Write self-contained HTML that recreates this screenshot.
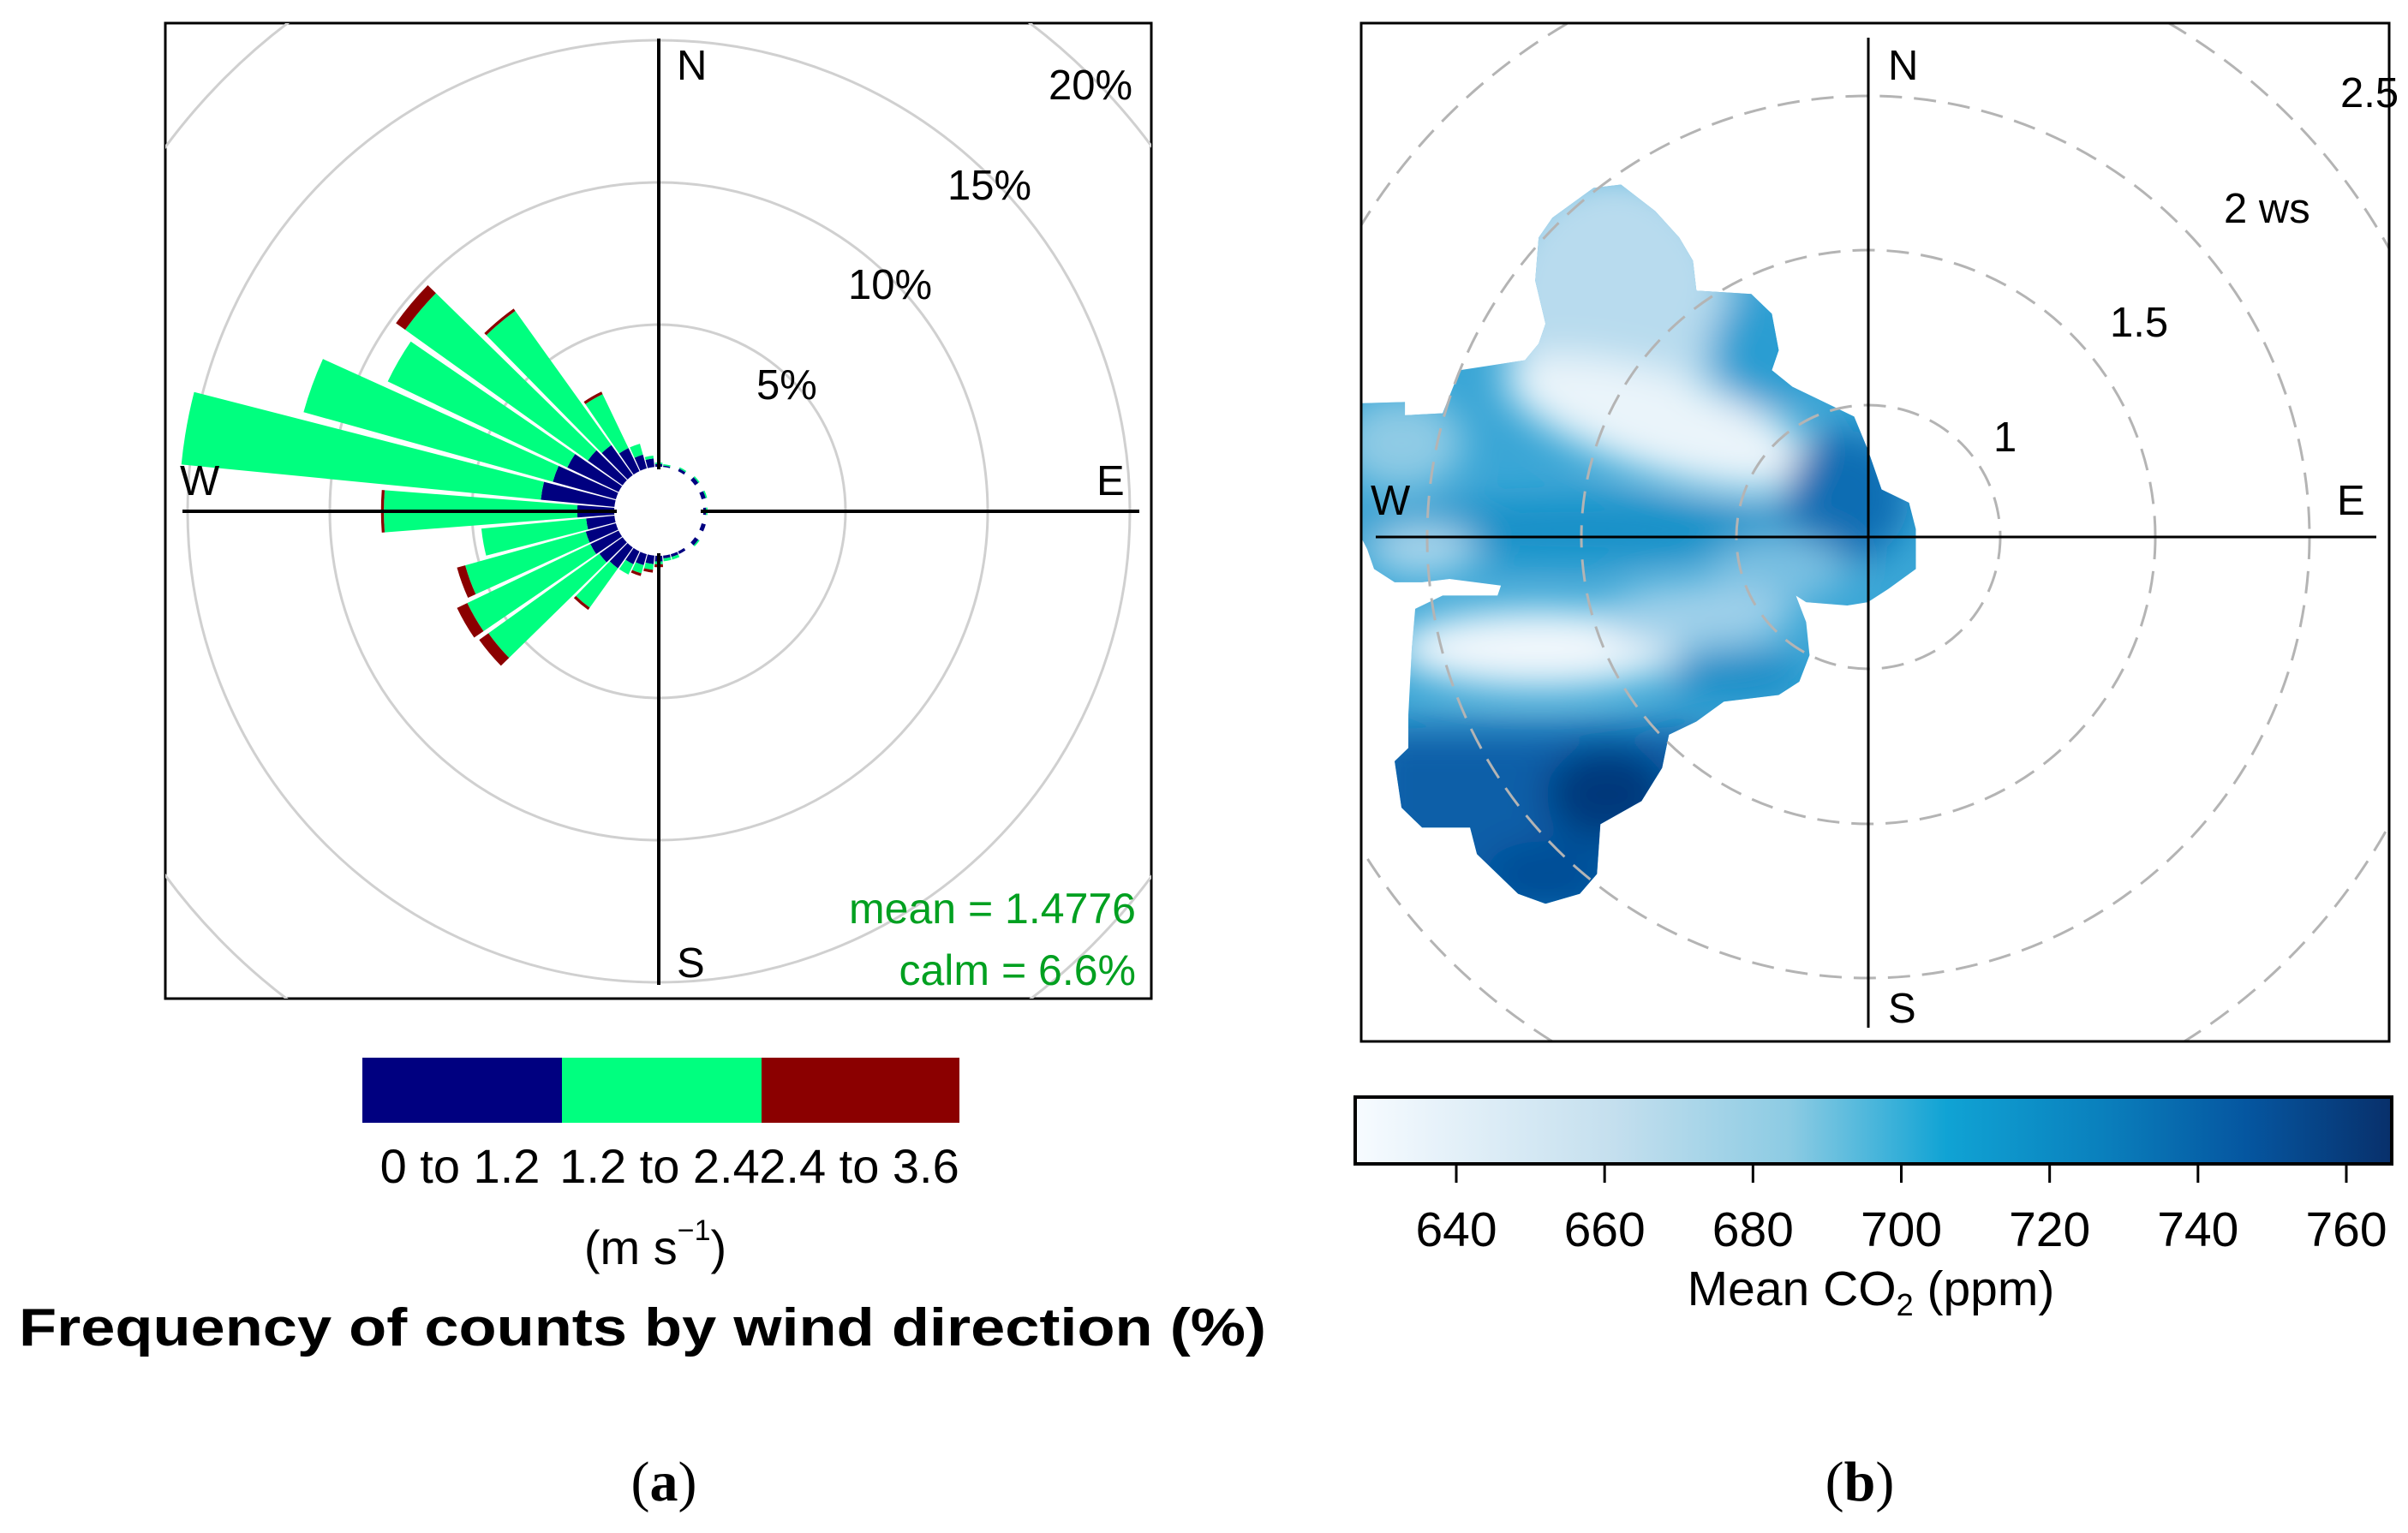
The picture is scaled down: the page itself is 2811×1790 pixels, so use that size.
<!DOCTYPE html>
<html><head><meta charset="utf-8"><style>
html,body{margin:0;padding:0;background:#fff}
svg{display:block}
text{font-family:"Liberation Sans",sans-serif}
</style></head><body>
<svg id="fig" width="2811" height="1790" viewBox="0 0 2811 1790" xmlns="http://www.w3.org/2000/svg">
<defs>
<clipPath id="clipA"><rect x="193" y="27" width="1151" height="1139"/></clipPath>
<clipPath id="clipB"><rect x="1589" y="27" width="1200" height="1189"/></clipPath>
<clipPath id="blobClip"><path id="blobPath" d="M30,580 L95,578 L95,598 L150,595 L175,530 L270,515 L290,490 L300,460 L285,395 L290,330 L310,300 L370,255 L410,250 L460,290 L495,330 L515,365 L520,410 L600,415 L630,445 L640,500 L630,530 L660,555 L710,580 L750,600 L770,650 L790,710 L830,730 L840,770 L840,830 L800,860 L770,880 L740,885 L680,880 L665,870 L680,910 L685,960 L670,1000 L640,1020 L560,1030 L520,1060 L480,1080 L470,1130 L440,1180 L380,1215 L375,1290 L350,1320 L300,1335 L260,1320 L200,1260 L190,1220 L120,1220 L90,1190 L80,1120 L100,1100 L100,1050 L105,950 L110,890 L150,870 L230,870 L235,855 L160,845 L120,850 L80,850 L50,830 L40,800 L30,780 Z"/></clipPath>
<filter id="blur" x="-50%" y="-50%" width="200%" height="200%"><feGaussianBlur stdDeviation="28"/></filter>
<linearGradient id="cbar" x1="0" x2="1" y1="0" y2="0">
<stop offset="0" stop-color="#f7fbff"/>
<stop offset="0.25" stop-color="#c4dfee"/>
<stop offset="0.42" stop-color="#8ccbe3"/>
<stop offset="0.57" stop-color="#10a3d4"/>
<stop offset="0.72" stop-color="#0a80bd"/>
<stop offset="0.86" stop-color="#0556a0"/>
<stop offset="1" stop-color="#08306b"/>
</linearGradient>
</defs>

<!-- Panel A -->
<g id="panelA">
<rect x="193" y="27" width="1151" height="1139" fill="#fff" stroke="#000" stroke-width="3"/>
<g id="ringsA" clip-path="url(#clipA)"></g>
<g id="petals"></g>
<line x1="213" y1="597" x2="1330" y2="597" stroke="#000" stroke-width="4"/>
<line x1="769" y1="45" x2="769" y2="1150" stroke="#000" stroke-width="4"/>
<circle cx="769" cy="597" r="49" fill="#fff"/>
<g font-size="49" fill="#000">
<text x="790" y="93">N</text>
<text x="790" y="1141">S</text>
<text x="210" y="578">W</text>
<text x="1280" y="578">E</text>
<text x="1224" y="116">20%</text>
<text x="1106" y="233">15%</text>
<text x="990" y="349">10%</text>
<text x="883" y="466">5%</text>
</g>
<g font-size="50" fill="#00a020" text-anchor="end">
<text x="1326" y="1078">mean = 1.4776</text>
<text x="1326" y="1150">calm = 6.6%</text>
</g>
<g>
<rect x="423" y="1235" width="233" height="76" fill="#000080"/>
<rect x="656" y="1235" width="233" height="76" fill="#00ff7f"/>
<rect x="889" y="1235" width="231" height="76" fill="#8b0000"/>
<g font-size="56" text-anchor="middle">
<text x="537" y="1381">0 to 1.2</text>
<text x="770" y="1381">1.2 to 2.4</text>
<text x="1003" y="1381">2.4 to 3.6</text>
<text x="765" y="1476">(m s<tspan font-size="34" dy="-28">−1</tspan><tspan dy="28">)</tspan></text>
</g>
</g>
<text x="750" y="1571" font-size="62" font-weight="bold" text-anchor="middle" textLength="1456" lengthAdjust="spacingAndGlyphs">Frequency of counts by wind direction (%)</text>
<text x="775" y="1752" font-size="66" text-anchor="middle" style="font-family:'Liberation Serif',serif">(<tspan font-weight="bold">a</tspan>)</text>
</g>

<!-- Panel B -->
<g id="panelB">
<rect x="1589" y="27" width="1200" height="1189" fill="#fff" stroke="#000" stroke-width="3"/>
<g transform="translate(1564,22) scale(0.8006,0.774)">
<g clip-path="url(#blobClip)">
<rect x="0" y="200" width="900" height="1200" fill="#3aa6d6"/>
<g filter="url(#blur)">
<ellipse cx="400" cy="420" rx="170" ry="190" fill="#b8dbee"/>
<ellipse cx="90" cy="640" rx="90" ry="70" fill="#8fcbe5"/>
<ellipse cx="470" cy="610" rx="240" ry="75" transform="rotate(18 470 610)" fill="#eaf4fa"/>
<ellipse cx="350" cy="770" rx="330" ry="45" fill="#1490c8"/>
<ellipse cx="120" cy="800" rx="80" ry="40" fill="#a8d6ec"/>
<ellipse cx="620" cy="500" rx="80" ry="90" fill="#2a9dd2"/>
<ellipse cx="740" cy="720" rx="90" ry="100" fill="#0a6db3"/>
<ellipse cx="640" cy="830" rx="100" ry="50" fill="#79c0e2"/>
<ellipse cx="290" cy="950" rx="210" ry="60" fill="#f0f7fc"/>
<ellipse cx="520" cy="900" rx="140" ry="50" fill="#9fd0ea"/>
<ellipse cx="580" cy="990" rx="100" ry="40" fill="#1f8ec8"/>
<rect x="40" y="1070" width="500" height="300" fill="#0a5ea8"/>
<ellipse cx="390" cy="1170" rx="90" ry="70" fill="#05397a"/>
<ellipse cx="300" cy="1290" rx="90" ry="50" fill="#064d96"/>
</g>
</g>
</g>
<g id="ringsB" clip-path="url(#clipB)"></g>
<line x1="1606" y1="627" x2="2774" y2="627" stroke="#000" stroke-width="3"/>
<line x1="2181" y1="44" x2="2181" y2="1200" stroke="#000" stroke-width="3"/>
<g font-size="49" fill="#000">
<text x="2204" y="93">N</text>
<text x="2204" y="1194">S</text>
<text x="1600" y="601">W</text>
<text x="2728" y="601">E</text>
<text x="2327" y="527">1</text>
<text x="2463" y="393">1.5</text>
<text x="2596" y="260">2 ws</text>
<text x="2732" y="125">2.5</text>
</g>
<rect x="1582" y="1281" width="1210" height="78" fill="url(#cbar)" stroke="#000" stroke-width="4"/>
<g id="cbTicks"></g>
<text x="2184" y="1524" font-size="57" text-anchor="middle">Mean CO<tspan font-size="36" dy="12">2</tspan><tspan dy="-12"> (ppm)</tspan></text>
<text x="2171" y="1752" font-size="66" text-anchor="middle" style="font-family:'Liberation Serif',serif">(<tspan font-weight="bold">b</tspan>)</text>
</g>
<rect x="1589" y="27" width="1200" height="1189" fill="none" stroke="#000" stroke-width="3"/>
</svg>
<script>
// Wind rose data
const directions = [10,20,30,40,50,60,70,80,90,100,110,120,130,140,150,160,170,180,190,200,210,220,230,240,250,260,270,280,290,300,310,320,330,340,350,360];
const lowSpeed  = [0.05,0,0.1,0,0.15,0,0.15,0,0.1,0,0.15,0,0.15,0,0.1,0.1,0.1,0.2,0.3,0.4,0.5,0.9,1.0,1.1,1.1,1.0,1.3,2.6,2.3,2.0,1.5,1.3,0.9,0.5,0.3,0.1];
const midSpeed  = [0.05,0,0.05,0,0.05,0,0.05,0,0.05,0,0,0,0.05,0,0,0.1,0.1,0.1,0.2,0.3,0.4,1.7,4.8,4.8,4.4,3.7,6.8,12.7,9.1,7.0,7.9,5.8,2.1,0.4,0.1,0.05];
const highSpeed = [0,0,0,0,0,0,0,0,0,0,0,0,0,0,0,0,0,0.1,0.1,0.1,0,0.1,0.4,0.4,0.3,0,0.1,0,0,0,0.4,0.1,0.1,0,0,0];
const ringPct = [5,10,15,20];
const NS='http://www.w3.org/2000/svg';
const cxA=769, cyA=597, r0=52, perPct=33.2, halfW=4.4;
function rA(p){return r0+p*perPct;}
function pt(deg,r){const a=deg*Math.PI/180;return [cxA+r*Math.sin(a), cyA-r*Math.cos(a)];}
const ringsA=document.getElementById('ringsA');
ringPct.forEach(p=>{
  const c=document.createElementNS(NS,'circle');
  c.setAttribute('cx',cxA);c.setAttribute('cy',cyA);c.setAttribute('r',rA(p));
  c.setAttribute('fill','none');c.setAttribute('stroke','#d0d0d0');c.setAttribute('stroke-width','3');
  
  
  ringsA.appendChild(c);
});
const petals=document.getElementById('petals');
function wedge(d,p1,p2,color){
  const r1=rA(p1), r2=rA(p2);
  const a=pt(d-halfW,r1), b=pt(d-halfW,r2), c=pt(d+halfW,r2), e=pt(d+halfW,r1);
  const path=document.createElementNS(NS,'path');
  path.setAttribute('d',`M${a} L${b} A${r2},${r2} 0 0 1 ${c} L${e} A${r1},${r1} 0 0 0 ${a}Z`);
  path.setAttribute('fill',color);
  return path;
}
directions.forEach((d,i)=>{
  const l=lowSpeed[i], m=midSpeed[i], h=highSpeed[i];
  if(l>0){
    const w1=wedge(d,0,l,'#000080');
    
    
    petals.appendChild(w1);
  }
  if(m>0){
    const w2=wedge(d,l,l+m,'#00ff7f');
    
    
    petals.appendChild(w2);
  }
  if(h>0){
    const w3=wedge(d,l+m,l+m+h,'#8b0000');
    
    
    petals.appendChild(w3);
  }
});
// Polar plot rings
const wsRings=[1,1.5,2,2.5,3];
const ringRadiusB=[154,335,515,695,875];
const ringsB=document.getElementById('ringsB');
wsRings.forEach((w,i)=>{
  const c=document.createElementNS(NS,'circle');
  c.setAttribute('cx',2181);c.setAttribute('cy',627);c.setAttribute('r',ringRadiusB[i]);
  c.setAttribute('fill','none');c.setAttribute('stroke','#b4b4b4');c.setAttribute('stroke-width','3');
  c.setAttribute('stroke-dasharray','26 14');
  
  
  ringsB.appendChild(c);
});
// Colorbar ticks
const cbTickValues=[640,660,680,700,720,740,760];
function cbX(v){return 1700+(v-640)*(2739-1700)/120;}
const cbTicks=document.getElementById('cbTicks');
cbTickValues.forEach(v=>{
  const l=document.createElementNS(NS,'line');
  l.setAttribute('x1',cbX(v));l.setAttribute('x2',cbX(v));l.setAttribute('y1',1359);l.setAttribute('y2',1381);
  l.setAttribute('stroke','#000');l.setAttribute('stroke-width','3');
  
  
  cbTicks.appendChild(l);
  const t=document.createElementNS(NS,'text');
  t.setAttribute('x',cbX(v));t.setAttribute('y',1455);t.setAttribute('font-size','57');t.setAttribute('text-anchor','middle');
  t.textContent=v;
  
  
  cbTicks.appendChild(t);
});
</script>
</body></html>
